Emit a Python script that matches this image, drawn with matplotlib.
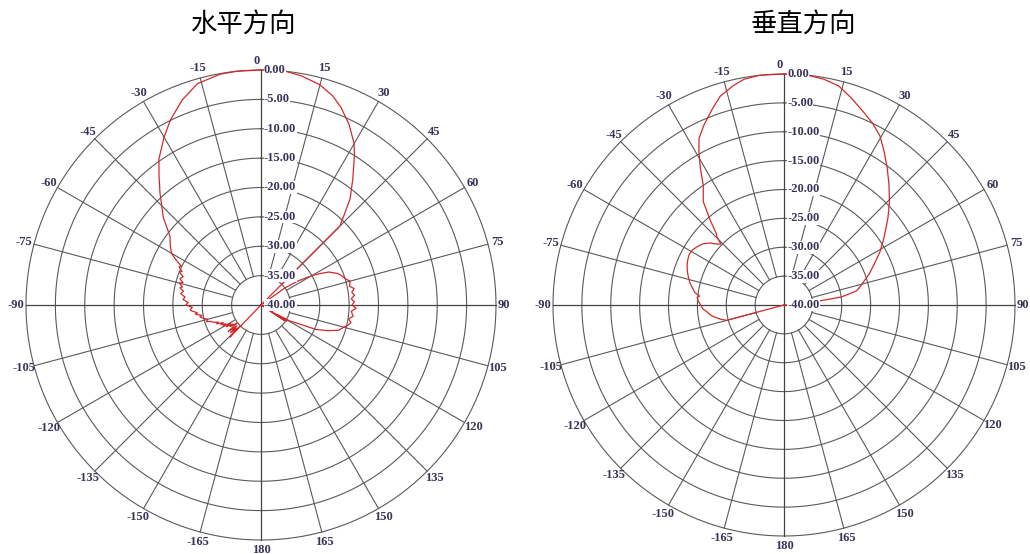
import matplotlib.pyplot as plt
import numpy as np

plt.rcParams['font.family'] = ['Noto Sans CJK SC', 'DejaVu Sans']

# horizontal pattern (angle in degrees, level in dB)
h_angle = [-180, -138, -136, -134, -132, -131, -129, -127, -125, -124, -122, -121,
           -119, -118, -116, -115, -113, -112, -110, -108, -107, -105, -103, -101,
           -100, -98, -97, -95, -94, -92, -90, -88, -86, -84, -82, -80, -78, -77,
           -75, -74, -72, -70, -68, -67, -65, -64, -62, -60, -57, -53, -48, -42,
           -38, -35, -30, -26, -21, -16, -10, -6, 0, 6, 10, 15, 19, 22, 26, 30,
           32, 36, 40, 43, 45, 46.5, 53, 54.5, 57, 60, 62, 64, 66, 68, 70, 73,
           75, 78, 80, 82, 84, 86, 88, 90, 92, 94, 97, 99, 101, 103, 105, 108,
           111, 114, 117, 119, 120.5, 121.5, 122.5, 123.5, 125, 180]
h_db = [-40, -40, -32.4, -34.3, -33.0, -34.6, -32.8, -35.0, -33.6, -34.2, -33.0, -34.0,
        -32.6, -33.2, -32.4, -32.9, -31.8, -32.2, -31.4, -31.0, -30.3, -30.6, -29.9, -29.4,
        -29.8, -28.7, -29.1, -28.2, -27.9, -28.3, -27.2, -27.6, -26.7, -27.0, -26.2, -26.6,
        -25.9, -26.3, -25.6, -26.2, -25.5, -25.9, -25.0, -25.4, -24.6, -24.9, -23.6, -22.4,
        -21.6, -20.6, -17.6, -14.3, -11.8, -9.7, -7.0, -4.9, -2.6, -0.8, -0.1, 0.0, 0.0,
        0.0, -0.4, -1.2, -2.4, -3.7, -5.8, -8.3, -10.0, -13.4, -16.4, -19.4, -21.0, -40,
        -40, -35.0, -32.5, -30.0, -28.6, -27.2, -26.5, -25.8, -25.4, -24.9, -24.3, -24.6,
        -23.9, -24.4, -24.0, -24.6, -24.1, -24.5, -23.8, -24.6, -24.2, -24.9, -24.4, -24.8,
        -25.4, -26.1, -27.8, -29.8, -33.3, -34.4, -36.8, -34.8, -39.0, -35.2, -40, -40]

# vertical pattern
v_angle = [-180, -107, -105, -103, -101, -99, -97, -95, -93, -91, -89, -87, -85, -84,
           -82, -80, -77, -74, -71, -68, -65, -62, -59, -56, -53, -50, -47.5, -46,
           -44.5, -43.5, -41, -38, -34, -31.5, -29, -27, -24, -20, -17, -13, -10, -6,
           0, 6, 10, 14, 18, 22.5, 26, 29.5, 33, 37, 41, 45.5, 50, 56, 61, 65.5, 70,
           73, 76, 79, 82, 84, 86, 88, 180]
v_db = [-40, -40, -29.7, -28.9, -28.2, -27.5, -27.0, -26.6, -26.0, -25.7, -25.4, -25.1,
        -24.9, -25.3, -24.4, -24.0, -23.3, -22.8, -22.3, -21.9, -21.6, -21.4, -21.5, -21.9,
        -22.4, -23.3, -24.4, -24.8, -23.4, -23.0, -20.5, -17.3, -15.0, -12.3, -9.6, -7.6,
        -5.9, -3.8, -2.2, -1.0, -0.3, 0.0, 0.0, 0.0, -0.3, -0.9, -2.3, -3.9, -5.0, -6.3,
        -8.2, -10.3, -12.3, -14.4, -16.5, -19.1, -21.0, -22.8, -24.3, -25.4, -26.3, -27.2,
        -29.9, -34.5, -38.0, -40, -40]

rings = [-35, -30, -25, -20, -15, -10, -5, 0]
ring_labels = [0, -5, -10, -15, -20, -25, -30, -35, -40]
spokes = list(range(0, 360, 15))

grid_c = '#5a5a5a'
text_c = '#3a3358'
curve_c = '#d22a2a'

fig = plt.figure(figsize=(10.3, 5.54), dpi=100)


def draw_pattern(ax, ang, db):
    ax.set_theta_zero_location('N')
    ax.set_theta_direction(-1)
    ax.set_ylim(-40, 0)
    ax.set_xticks([])
    ax.set_yticks([])
    ax.grid(False)
    ax.spines['polar'].set_visible(False)

    full = np.linspace(0, 2 * np.pi, 721)
    for r in rings:
        ax.plot(full, np.full_like(full, r), color=grid_c, lw=0.8, clip_on=False)
    for a in spokes:
        t = np.deg2rad(a)
        if a % 90 == 0:
            ax.plot([t, t], [-40, 0], color='#444444', lw=0.9, clip_on=False)
        else:
            ax.plot([t, t], [-35, 0], color=grid_c, lw=0.8, clip_on=False)

    ax.plot(np.deg2rad(ang), db, color=curve_c, lw=0.9, zorder=3, clip_on=False)

    for a in spokes:
        lab = a if a <= 180 else a - 360
        t = np.deg2rad(a)
        dx, dy = 10 * np.sin(t), 10 * np.cos(t)
        ha = 'center'
        if a == 0:
            dx, dy = -4, 9
        elif a == 90:
            dx, dy, ha = 2, 0, 'left'
        ax.annotate(str(lab), xy=(t, 0), xytext=(dx, dy), textcoords='offset pixels',
                    ha=ha, va='center', fontsize=9, fontweight='bold',
                    family='Liberation Serif', color=text_c, annotation_clip=False)

    for v in ring_labels:
        ax.annotate(f'{v:.2f}', xy=(0, v), xytext=(3, 0), textcoords='offset pixels',
                    ha='left', va='center', fontsize=9, fontweight='bold',
                    family='Liberation Serif', color=text_c, zorder=4,
                    bbox=dict(fc='white', ec='none', pad=0.3))


W, H = 1030, 554
R1, R2 = 235, 231
ax1 = fig.add_axes([(261 - R1) / W, (H - 305 - R1) / H, 2 * R1 / W, 2 * R1 / H], projection='polar')
draw_pattern(ax1, h_angle, h_db)
ax2 = fig.add_axes([(784 - R2) / W, (H - 305 - R2) / H, 2 * R2 / W, 2 * R2 / H], projection='polar')
draw_pattern(ax2, v_angle, v_db)

fig.text(243 / W, 1 - 24 / H, '水平方向', ha='center', va='center', fontsize=19)
fig.text(803 / W, 1 - 24 / H, '垂直方向', ha='center', va='center', fontsize=19)

fig.savefig('out.png', dpi=100, facecolor='white')
